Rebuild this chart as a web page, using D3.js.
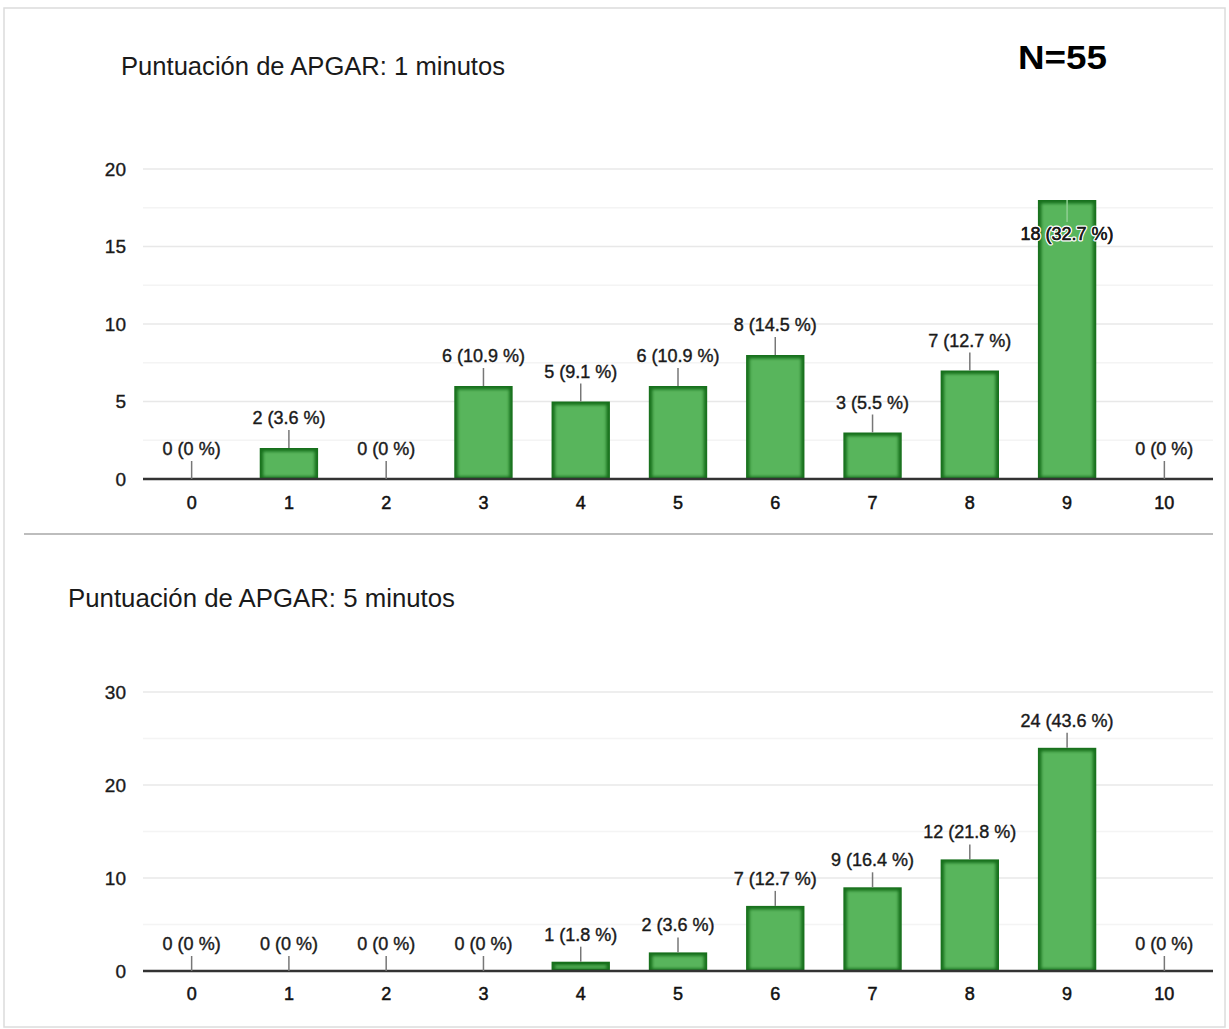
<!DOCTYPE html>
<html>
<head>
<meta charset="utf-8">
<script src="https://cdn.jsdelivr.net/npm/d3@7"></script>
<style>
  html, body { margin: 0; padding: 0; background: #fff; }
  svg { display: block; font-family: "Liberation Sans", Arial, sans-serif; }
</style>
</head>
<body>
<svg id="chart" width="1229" height="1029"></svg>
<script>
// ---- data ----
const categories = ["0","1","2","3","4","5","6","7","8","9","10"];
const apgar1Counts = [0, 2, 0, 6, 5, 6, 8, 3, 7, 18, 0];
const apgar1Pct = ["0", "3.6", "0", "10.9", "9.1", "10.9", "14.5", "5.5", "12.7", "32.7", "0"];
const apgar5Counts = [0, 0, 0, 0, 1, 2, 7, 9, 12, 24, 0];
const apgar5Pct = ["0", "0", "0", "0", "1.8", "3.6", "12.7", "16.4", "21.8", "43.6", "0"];
const apgar1Ticks = [0, 5, 10, 15, 20];
const apgar5Ticks = [0, 10, 20, 30];
const title1 = "Puntuación de APGAR: 1 minutos";
const title5 = "Puntuación de APGAR: 5 minutos";
const sampleLabel = "N=55";

const svg = d3.select("#chart");

// card frame
svg.append("rect").attr("x", 4).attr("y", 8).attr("width", 1221).attr("height", 1019)
  .attr("fill", "#fff").attr("stroke", "#dcdcdc").attr("stroke-width", 1.5);

// bar glow filter
const defs = svg.append("defs");
const f = defs.append("filter").attr("id", "soft").attr("x", "-10%").attr("y", "-10%").attr("width", "120%").attr("height", "120%");
f.append("feGaussianBlur").attr("stdDeviation", 1.8);

// titles
svg.append("text").attr("x", 121).attr("y", 75).attr("font-size", 25).attr("fill", "#1a1a1a")
  .attr("textLength", 384).attr("lengthAdjust", "spacingAndGlyphs").text(title1);
svg.append("text").attr("x", 68).attr("y", 607).attr("font-size", 25).attr("fill", "#1a1a1a")
  .attr("textLength", 387).attr("lengthAdjust", "spacingAndGlyphs").text(title5);
svg.append("text").attr("x", 1018).attr("y", 69).attr("font-size", 34).attr("font-weight", "bold")
  .attr("fill", "#000").attr("textLength", 89).attr("lengthAdjust", "spacingAndGlyphs").text(sampleLabel);

// separator
svg.append("line").attr("x1", 24).attr("x2", 1213).attr("y1", 534).attr("y2", 534)
  .attr("stroke", "#bdbdbd").attr("stroke-width", 2);

function drawChart(cfg) {
  const x = d3.scaleBand().domain(categories).range([143, 1213]).paddingInner(0.4).paddingOuter(0.2);
  const y = d3.scaleLinear().domain([0, cfg.max]).range([cfg.y0, cfg.yTop]);
  const g = svg.append("g");

  // minor gridlines
  const minor = d3.range(cfg.minorStep, cfg.max, cfg.minorStep).filter(v => !cfg.ticks.includes(v));
  g.selectAll(".minor").data(minor).join("line")
    .attr("x1", 143).attr("x2", 1213).attr("y1", d => y(d)).attr("y2", d => y(d))
    .attr("stroke", "#f4f4f4").attr("stroke-width", 1.5);
  // major gridlines
  g.selectAll(".major").data(cfg.ticks.filter(v => v > 0)).join("line")
    .attr("x1", 143).attr("x2", 1213).attr("y1", d => y(d)).attr("y2", d => y(d))
    .attr("stroke", "#e8e8e8").attr("stroke-width", 1.5);

  // y axis labels
  const yAxis = d3.axisLeft(y).tickValues(cfg.ticks).tickSize(0).tickPadding(0);
  const ya = g.append("g").attr("transform", "translate(126,0)").call(yAxis);
  ya.select(".domain").remove();
  ya.selectAll("text").attr("font-size", 19).attr("fill", "#1a1a1a")
    .attr("stroke", "#1a1a1a").attr("stroke-width", 0.35)
    .attr("font-family", "Liberation Sans, Arial, sans-serif");

  // bars
  const data = categories.map((c, i) => ({ c, v: cfg.counts[i], p: cfg.pct[i] }));
  const bars = g.selectAll(".bar").data(data.filter(d => d.v > 0)).join("g");
  bars.append("rect")
    .attr("x", d => x(d.c)).attr("width", x.bandwidth())
    .attr("y", d => y(d.v)).attr("height", d => y(0) - y(d.v))
    .attr("fill", "#17701c");
  bars.append("rect")
    .attr("x", d => x(d.c) + 3.5).attr("width", x.bandwidth() - 7)
    .attr("y", d => y(d.v) + 3.5).attr("height", d => Math.max(0, y(0) - y(d.v) - 6))
    .attr("fill", "#58b55c").attr("filter", "url(#soft)");

  // baseline
  g.append("line").attr("x1", 143).attr("x2", 1213).attr("y1", y(0)).attr("y2", y(0))
    .attr("stroke", "#333").attr("stroke-width", 2.5);

  // x axis labels
  const xAxis = d3.axisBottom(x).tickSize(0).tickPadding(0);
  const xa = g.append("g").attr("transform", `translate(0,${cfg.xLabelY})`).call(xAxis);
  xa.select(".domain").remove();
  xa.selectAll("text").attr("font-size", 18).attr("fill", "#111").attr("dy", "0.35em")
    .attr("stroke", "#111").attr("stroke-width", 0.5)
    .attr("font-family", "Liberation Sans, Arial, sans-serif");

  // data labels with leader lines
  data.forEach(d => {
    const cx = x(d.c) + x.bandwidth() / 2;
    const top = y(d.v);
    let base = top - cfg.labelOff;
    let lineTop = top - (cfg.labelOff - 6), lineBot = top;
    let inside = false;
    if (base - 14 < cfg.yTop) { inside = true; base = top + 40; lineTop = top; lineBot = top + 22; }
    g.append("line").attr("x1", cx).attr("x2", cx).attr("y1", lineTop).attr("y2", lineBot)
      .attr("stroke", inside ? "#8fcf92" : "#777").attr("stroke-width", 1.5);
    const t = g.append("text").attr("x", cx).attr("y", base).attr("text-anchor", "middle")
      .attr("font-size", 18).attr("fill", "#1a1a1a").text(`${d.v} (${d.p} %)`);
    if (inside) {
      t.attr("stroke", "#fff").attr("stroke-width", 3).attr("paint-order", "stroke").attr("stroke-linejoin", "round");
      g.append("text").attr("x", cx).attr("y", base).attr("text-anchor", "middle")
        .attr("font-size", 18).attr("fill", "#1a1a1a").attr("stroke", "#1a1a1a").attr("stroke-width", 0.4)
        .text(`${d.v} (${d.p} %)`);
    } else {
      t.attr("stroke", "#1a1a1a").attr("stroke-width", 0.4);
    }
  });
}

drawChart({ counts: apgar1Counts, pct: apgar1Pct, max: 20, ticks: apgar1Ticks, minorStep: 2.5,
  y0: 479, yTop: 169, xLabelY: 503, labelOff: 24 });
drawChart({ counts: apgar5Counts, pct: apgar5Pct, max: 30, ticks: apgar5Ticks, minorStep: 5,
  y0: 971, yTop: 692, xLabelY: 994, labelOff: 21 });
</script>
</body>
</html>
